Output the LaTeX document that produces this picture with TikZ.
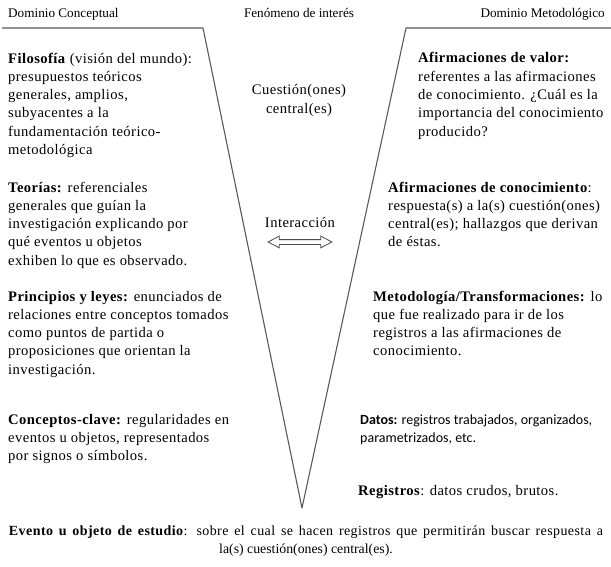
\documentclass[tikz,border=0pt]{standalone}
\usepackage{fontspec}
\setmainfont{Liberation Serif}[LetterSpace=3]
\newfontfamily\plainserif{Liberation Serif}
\newfontfamily\datosfont{Carlito}
\usetikzlibrary{shapes.arrows}

\begin{document}
\begin{tikzpicture}[x=1pt, y=-1pt,
  txt/.style={anchor=base west, align=left, inner sep=0pt, font=\rmfamily\fontsize{14.6}{18.3}\selectfont},
  mid/.style={anchor=base, inner sep=0pt, font=\rmfamily\fontsize{14.6}{18.3}\selectfont},
  head/.style={anchor=base, inner sep=0pt, font=\plainserif\fontsize{13.2}{18.3}\selectfont}]
  \useasboundingbox (0,0) rectangle (611,567);

  % the V
  \coordinate (lstart) at (2,28);
  \coordinate (lcorner) at (203,28);
  \coordinate (tip) at (302,508);
  \coordinate (rcorner) at (406,28);
  \coordinate (rend) at (611,28);
  \draw[black!65, line width=1.1pt, line join=round] (lstart) -- (lcorner) -- (tip) -- (rcorner) -- (rend);

  % headings
  \node (dom-con) [head, anchor=base west] at (8,18) {Dominio Conceptual};
  \node (fenomeno) [head] at (299,18) {Fenómeno de interés};
  \node (dom-met) [head, anchor=base east] at (605,18) {Dominio Metodológico};

  % conceptual side (anchored at the baseline of the last line)
  \node (filosofia) [txt] at (8,154.5) {\textbf{Filosofía} (visión del mundo):\\ presupuestos teóricos\\ generales, amplios,\\ subyacentes a la\\ fundamentación teórico-\\ metodológica};
  \node (teorias) [txt] at (8,265.2) {\textbf{Teorías:} referenciales\\ generales que guían la\\ investigación explicando por\\ qué eventos u objetos\\ exhiben lo que es observado.};
  \node (principios) [txt] at (8,374.2) {\textbf{Principios y leyes:} enunciados de\\ relaciones entre conceptos tomados\\ como puntos de partida o\\ proposiciones que orientan la\\ investigación.};
  \node (conceptos) [txt] at (8,460.6) {\textbf{Conceptos-clave:} regularidades en\\ eventos u objetos, representados\\ por signos o símbolos.};

  % centre
  \node (cuestion) [mid, align=center] at (299,113.3) {Cuestión(ones)\\ central(es)};
  \node (interaccion) [mid] at (300,227) {Interacción};
  \node (inter-arrow) [double arrow, draw, black!70, line width=0.8pt, fill=white, minimum height=64pt, inner sep=2pt,
    double arrow head extend=3.5pt, double arrow tip angle=55] at (300,242) {};

  % methodological side
  \node (valor) [txt] at (418,136.2) {\textbf{Afirmaciones de valor:}\\ referentes a las afirmaciones\\ de conocimiento. ¿Cuál es la\\ importancia del conocimiento\\ producido?};
  \node (conocimiento) [txt] at (388,246.9) {\textbf{Afirmaciones de conocimiento}:\\ respuesta(s) a la(s) cuestión(ones)\\ central(es); hallazgos que derivan\\ de éstas.};
  \node (metodologia) [txt] at (373,355.9) {\textbf{Metodología/Transformaciones:} lo\\ que fue realizado para ir de los\\ registros a las afirmaciones de\\ conocimiento.};
  \node (datos) [txt, font=\datosfont\fontsize{14}{18.3}\selectfont] at (360,442.3) {\textbf{Datos:} registros trabajados, organizados,\\ parametrizados, etc.};
  \node (registros) [txt] at (358,495) {\textbf{Registros}: datos crudos, brutos.};

  % event
  \node (evento) [head, align=center, font=\plainserif\fontsize{13.8}{18.3}\selectfont] at (306,553.3) {{\rmfamily\fontsize{14}{18.3}\selectfont\makebox[594pt][s]{\textbf{Evento u objeto de estudio}: sobre el cual se hacen registros que permitirán buscar respuesta a}}\\ la(s) cuestión(ones) central(es).};
\end{tikzpicture}
\end{document}
